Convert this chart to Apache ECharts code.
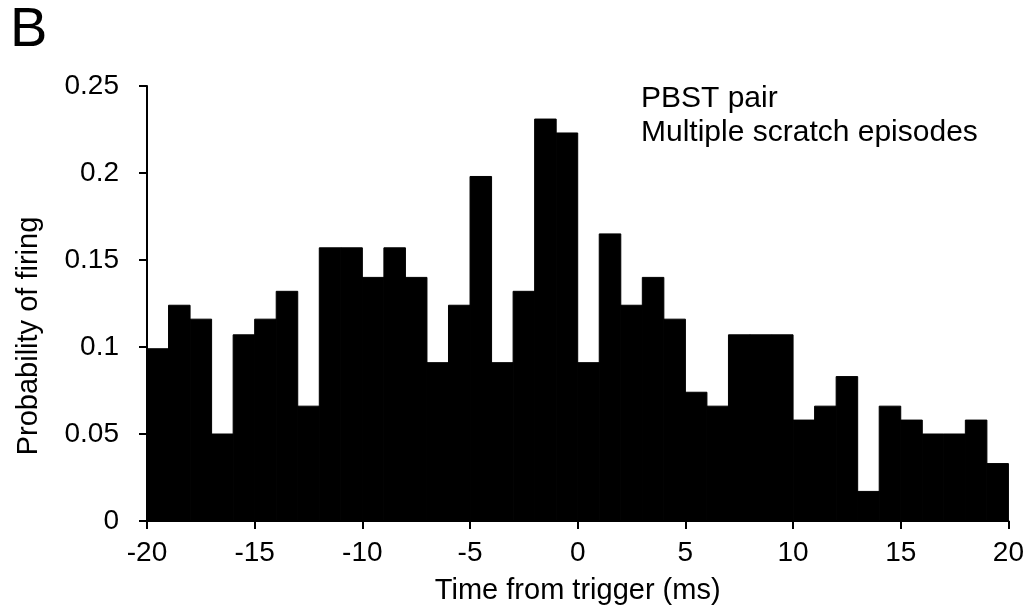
<!DOCTYPE html>
<html>
<head>
<meta charset="utf-8">
<script src="https://cdn.jsdelivr.net/npm/echarts@6/dist/echarts.min.js"></script>
<style>
html,body{margin:0;padding:0;background:#fff;}
#chart{width:1027px;height:613px;}
</style>
</head>
<body>
<div id="chart"></div>
<script>
// Bin edges (ms) of the 1-ms histogram bins
const binStarts = [-20,-19,-18,-17,-16,-15,-14,-13,-12,-11,-10,-9,-8,-7,-6,-5,-4,-3,-2,-1,0,1,2,3,4,5,6,7,8,9,10,11,12,13,14,15,16,17,18,19];
const binEnds   = [-19,-18,-17,-16,-15,-14,-13,-12,-11,-10,-9,-8,-7,-6,-5,-4,-3,-2,-1,0,1,2,3,4,5,6,7,8,9,10,11,12,13,14,15,16,17,18,19,20];
// Probability of firing per bin
const probability = [
  0.099, 0.124, 0.116, 0.050, 0.107, 0.116, 0.132, 0.066, 0.157, 0.157,
  0.140, 0.157, 0.140, 0.091, 0.124, 0.198, 0.091, 0.132, 0.231, 0.223,
  0.091, 0.165, 0.124, 0.140, 0.116, 0.074, 0.066, 0.107, 0.107, 0.107,
  0.058, 0.066, 0.083, 0.017, 0.066, 0.058, 0.050, 0.050, 0.058, 0.033
];
const xTickLabels = ['-20','-15','-10','-5','0','5','10','15','20'];
const yTickLabels = ['0','0.05','0.1','0.15','0.2','0.25'];
const panelLabel = 'B';
const noteLines = ['PBST pair', 'Multiple scratch episodes'];
const xName = 'Time from trigger (ms)';
const yName = 'Probability of firing';

const data = probability.map((v, i) => [binStarts[i], binEnds[i], v]);
const FONT = "'Liberation Sans', Arial, Helvetica, sans-serif";

const chart = echarts.init(document.getElementById('chart'), null, {renderer: 'canvas'});
chart.setOption({
  animation: false,
  backgroundColor: '#ffffff',
  grid: {left: 147, right: 15, top: 86, bottom: 92, containLabel: false},
  xAxis: {
    type: 'value', min: -20, max: 20, interval: 5,
    name: xName, nameLocation: 'middle', nameGap: 55,
    nameTextStyle: {fontFamily: FONT, fontSize: 29, color: '#000'},
    axisLine: {show: true, onZero: false, lineStyle: {color: '#000', width: 2}},
    axisTick: {show: true, length: 8, lineStyle: {color: '#000', width: 2}},
    axisLabel: {fontFamily: FONT, fontSize: 28, color: '#000', margin: 18,
      formatter: v => { const i = xTickLabels.indexOf(String(v)); return i >= 0 ? xTickLabels[i] : ''; }},
    splitLine: {show: false}
  },
  yAxis: {
    type: 'value', min: 0, max: 0.25, interval: 0.05,
    axisLine: {show: true, onZero: false, lineStyle: {color: '#000', width: 2}},
    axisTick: {show: true, length: 8, lineStyle: {color: '#000', width: 2}},
    axisLabel: {fontFamily: FONT, fontSize: 28, color: '#000', margin: 28,
      formatter: (v) => { const idx = Math.round(v / 0.05); return yTickLabels[idx] !== undefined ? yTickLabels[idx] : ''; }},
    splitLine: {show: false}
  },
  series: [{
    type: 'custom',
    data: data,
    encode: {x: [0, 1], y: 2},
    renderItem: function (params, api) {
      const p0 = api.coord([api.value(0), 0]);
      const p1 = api.coord([api.value(1), api.value(2)]);
      return {
        type: 'rect',
        shape: {x: p0[0], y: p1[1], width: p1[0] - p0[0], height: p0[1] - p1[1]},
        style: {fill: '#000', stroke: '#000', lineWidth: 1}
      };
    }
  }],
  graphic: [
    {type: 'text', left: 10, top: 3, style: {text: panelLabel, font: "56px " + FONT, fill: '#000'}},
    {type: 'text', x: 29, y: 336, rotation: Math.PI / 2,
      style: {text: yName, font: "29px " + FONT, fill: '#000', align: 'center', verticalAlign: 'middle'}},
    {type: 'text', left: 641, top: 84, style: {text: noteLines[0], font: "30px " + FONT, fill: '#000'}},
    {type: 'text', left: 641, top: 118, style: {text: noteLines[1], font: "30px " + FONT, fill: '#000'}}
  ]
});
</script>
</body>
</html>
